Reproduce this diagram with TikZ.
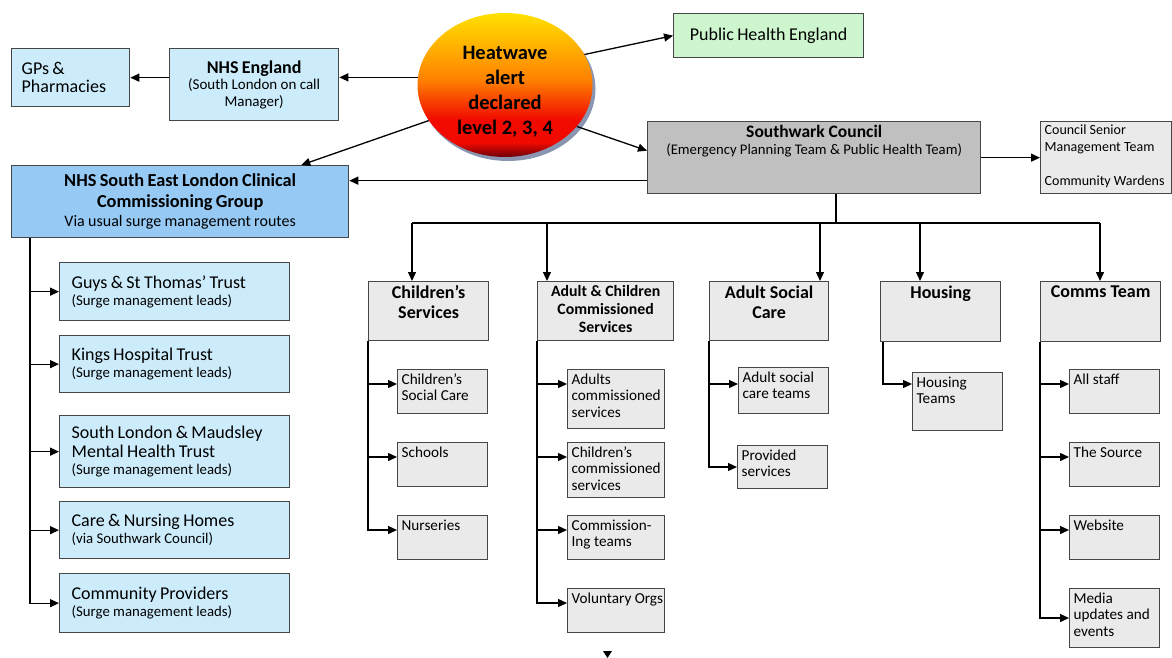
\documentclass[tikz,border=0pt]{standalone}
\usepackage{fontspec}
\setmainfont{Carlito}
\usetikzlibrary{arrows.meta,positioning,shapes.geometric,shadows}
\definecolor{nhsblue}{RGB}{204,236,252}
\definecolor{ccgblue}{RGB}{150,202,245}
\definecolor{phegreen}{RGB}{206,246,206}
\definecolor{councilgrey}{RGB}{192,192,192}
\definecolor{teamgrey}{RGB}{234,234,234}
\definecolor{edgegrey}{RGB}{70,70,70}
\definecolor{heatdark}{RGB}{110,0,10}
\definecolor{heatred}{RGB}{240,10,0}
\definecolor{heatorange}{RGB}{255,130,0}
\definecolor{heatyellow}{RGB}{255,225,0}
\definecolor{shadowblue}{RGB}{60,80,125}
\pgfdeclareverticalshading{heatwave}{100bp}{color(0bp)=(heatdark); color(25bp)=(heatdark); color(30bp)=(heatred); color(38bp)=(heatred); color(52bp)=(heatorange); color(75bp)=(heatyellow); color(100bp)=(heatyellow)}
\newcommand{\txthead}{\fontsize{18}{20}\selectfont\bfseries}
\newcommand{\txtmain}{\fontsize{18}{19}\selectfont}
\newcommand{\txtsmall}{\fontsize{14.8}{17}\selectfont}
\newcommand{\txtsub}{\fontsize{15.2}{16.5}\selectfont}
\newcommand{\topleft}[3]{\parbox[c][#2pt][t]{#1pt}{\raggedright #3}}
\newcommand{\topmid}[3]{\parbox[c][#2pt][t]{#1pt}{\centering #3}}
\tikzset{
  box/.style={draw=edgegrey, line width=1.3pt, inner xsep=4pt, inner ysep=4pt, anchor=north west},
  bluebox/.style={box, fill=nhsblue},
  greybox/.style={box, fill=teamgrey},
  heatnode/.style={ellipse, minimum width=175pt, minimum height=144pt, inner sep=0pt,
    shade, shading=heatwave,
    drop shadow={shadow xshift=3pt, shadow yshift=-4pt, fill=shadowblue, opacity=0.6}},
  heattext/.style={align=center, font=\fontsize{20.5}{25}\selectfont\bfseries},
  link/.style={-{Triangle[length=9pt,width=8pt]}, line width=1.3pt},
  wire/.style={line width=1.3pt}
}
\begin{document}
\begin{tikzpicture}[x=1pt, y=-1pt]
  \useasboundingbox (0,0) rectangle (1172,657);

  % alert and the first level
  \node[heatnode] (heat) at (505,85) {};
  \node[heattext] (heatlabel) at (505,92) {Heatwave\\alert\\declared\\level 2, 3, 4};
  \node[bluebox, inner xsep=10pt, text width=98pt, minimum height=58pt, align=left] (gps) at (11,48)
    {{\fontsize{18}{18.5}\selectfont GPs \&\\Pharmacies\par}};
  \node[bluebox, text width=161pt, minimum height=72pt, align=center] (nhse) at (169,48)
    {{\txthead NHS England\par}{\fontsize{15}{16.5}\selectfont (South London on call\\Manager)\par}};
  \node[box, fill=phegreen, text width=182pt, minimum height=44pt, align=center] (phe) at (673,13)
    {{\fontsize{18}{19}\selectfont Public Health England\par}};
  \node[box, fill=councilgrey] (swk) at (647,121)
    {\topmid{325}{64}{{\fontsize{17.5}{20}\selectfont\bfseries Southwark Council\par}{\fontsize{14.7}{17}\selectfont (Emergency Planning Team \& Public Health Team)\par}}};
  \node[greybox, inner ysep=3pt] (csm) at (1040,121)
    {\topleft{123}{66}{\fontsize{14}{17}\selectfont Council Senior\\Management Team\\[17pt]Community Wardens}};
  \node[box, fill=ccgblue, text width=329pt, minimum height=72pt, align=center] (ccg) at (11,165)
    {{\fontsize{18.3}{20.5}\selectfont\bfseries NHS South East London Clinical\\Commissioning Group\par}{\fontsize{16}{19}\selectfont Via usual surge management routes\par}};

  % health partners
  \node[bluebox, inner xsep=12pt, text width=206pt, minimum height=58pt, align=left] (guys) at (59,262)
    {{\txtmain Guys \& St Thomas' Trust\par}{\txtsmall (Surge management leads)\par}};
  \node[bluebox, inner xsep=12pt, text width=206pt, minimum height=57pt, align=left] (kings) at (59,335)
    {{\txtmain Kings Hospital Trust\par}{\txtsmall (Surge management leads)\par}};
  \node[bluebox, inner xsep=12pt, text width=206pt, minimum height=72pt, align=left] (slam) at (59,415)
    {{\txtmain South London \& Maudsley\\Mental Health Trust\par}{\txtsmall (Surge management leads)\par}};
  \node[bluebox, inner xsep=12pt, text width=206pt, minimum height=57pt, align=left] (care) at (59,501)
    {{\txtmain Care \& Nursing Homes\par}{\txtsmall (via Southwark Council)\par}};
  \node[bluebox, inner xsep=12pt, text width=206pt, minimum height=59pt, align=left] (comm) at (59,573)
    {{\txtmain Community Providers\par}{\txtsmall (Surge management leads)\par}};

  % council departments
  \node[greybox] (chs) at (368,281) {\topmid{112}{51}{\txthead Children's\\Services}};
  \node[greybox] (acc) at (537,281) {\topmid{128}{51}{\fontsize{15.8}{18}\selectfont\bfseries Adult \& Children\\Commissioned\\Services}};
  \node[greybox] (asc) at (709,281) {\topmid{111}{51}{\txthead Adult Social\\Care}};
  \node[greybox] (hsg) at (880,281) {\topmid{112}{52}{\txthead Housing}};
  \node[greybox] (cms) at (1040,281) {\topmid{112}{52}{\txthead Comms Team}};

  % teams
  \node[greybox] (csc) at (397,369) {\topleft{82}{36}{\txtsub Children's\\Social Care}};
  \node[greybox] (sch) at (397,442) {\topleft{82}{36}{\txtsub Schools}};
  \node[greybox] (nur) at (397,515) {\topleft{82}{36}{\txtsub Nurseries}};
  \node[greybox] (acs) at (567,369) {\topleft{89}{51}{\txtsub Adults\\commissioned\\services}};
  \node[greybox] (ccs) at (567,442) {\topleft{89}{47}{\txtsub Children's\\commissioned\\services}};
  \node[greybox] (cmt) at (567,515) {\topleft{89}{36}{\txtsub Commission-\\Ing teams}};
  \node[greybox] (vol) at (567,588) {\topleft{89}{36}{\txtsub \mbox{Voluntary Orgs}}};
  \node[greybox] (ast) at (738,367) {\topleft{82}{38}{\txtsub Adult social\\care teams}};
  \node[greybox] (prs) at (737,445) {\topleft{82}{35}{\txtsub Provided\\services}};
  \node[greybox] (hst) at (912,372) {\topleft{82}{50}{\txtsub Housing\\Teams}};
  \node[greybox] (all) at (1069,369) {\topleft{82}{36}{\txtsub All staff}};
  \node[greybox] (src) at (1069,442) {\topleft{82}{36}{\txtsub The Source}};
  \node[greybox] (web) at (1069,515) {\topleft{82}{36}{\txtsub Website}};
  \node[greybox] (med) at (1069,588) {\topleft{82}{51}{\txtsub Media\\updates and\\events}};

  % alert links
  \draw[link] (heat.175) -- (heat.175 -| nhse.east);
  \draw[link] (nhse.west |- gps.east) -- (gps.east);
  \draw[link] (heat.205) -- ([xshift=-48pt]ccg.north east);
  \draw[link] (heat.21) -- (phe.west);
  \draw[link] (heat.330) -- ([yshift=7pt]swk.west);
  \coordinate (swkout) at ([yshift=-23pt]swk.west);
  \draw[link] (swkout) -- (swkout -| ccg.east);
  \draw[link] (swk.east) -- (csm.west);

  % ccg to partners
  \coordinate (ltop) at ([xshift=19pt]ccg.south west);
  \draw[link] (ltop) |- (comm.west);
  \foreach \b in {guys,kings,slam,care}
    \draw[link] (ltop |- \b.west) -- (\b.west);

  % council to departments
  \coordinate (hub) at (836,223);
  \coordinate (d1) at (412,223);
  \coordinate (d2) at (547,223);
  \coordinate (d3) at (820,223);
  \coordinate (d4) at (920,223);
  \coordinate (d5) at (1100,223);
  \draw[wire] (hub |- swk.south) -- (hub);
  \draw[wire] (d1) -- (d5);
  \foreach \d/\b in {d1/chs,d2/acc,d3/asc,d4/hsg,d5/cms}
    \draw[link] (\d) -- (\d |- \b.north);

  % departments to teams
  \foreach \b/\s in {csc/15,sch/15,nur/15,acs/15,ccs/15,cmt/15,vol/15,ast/17,prs/22,hst/12,all/15,src/15,web/15,med/30}
    \coordinate (\b-in) at ([yshift=-\s pt]\b.north west);
  \draw[link] (chs.south west) |- (nur-in);
  \foreach \b in {csc,sch}
    \draw[link] (chs.south west |- \b-in) -- (\b-in);
  \draw[link] (acc.south west) |- (vol-in);
  \foreach \b in {acs,ccs,cmt}
    \draw[link] (acc.south west |- \b-in) -- (\b-in);
  \draw[link] (asc.south west) |- (prs-in);
  \draw[link] (asc.south west |- ast-in) -- (ast-in);
  \draw[link] ([xshift=3pt]hsg.south west) |- (hst-in);
  \draw[link] (cms.south west) |- (med-in);
  \foreach \b in {all,src,web}
    \draw[link] (cms.south west |- \b-in) -- (\b-in);

  \fill (603,651) -- (612,651) -- (607.5,658) -- cycle;
\end{tikzpicture}
\end{document}
